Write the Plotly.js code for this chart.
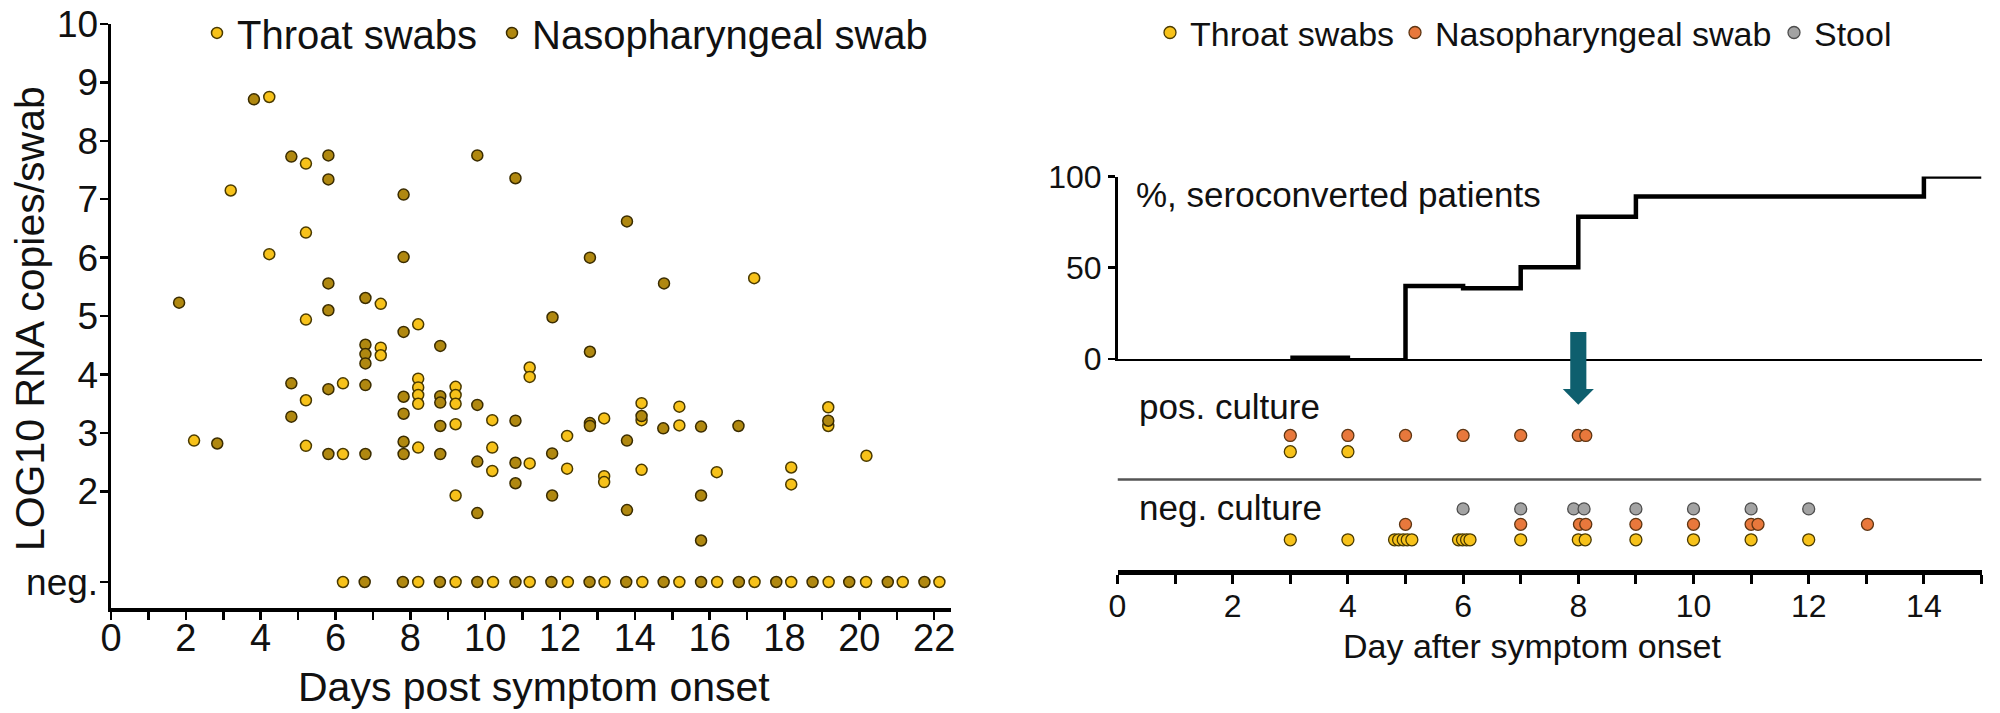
<!DOCTYPE html>
<html>
<head>
<meta charset="utf-8">
<script src="https://cdn.plot.ly/plotly-3.0.1.min.js"></script>
<style>html,body{margin:0;padding:0;background:#fff;}#chart{width:2000px;height:713px;}</style>
</head>
<body>
<div id="chart"></div>
<script>
// ---------- Left panel: viral RNA load ----------
const NEG_LEVEL = 0.45; // position of the "neg." row
const leftThroatX = [4.23,5.21,3.2,5.21,4.23,7.21,5.21,8.21,7.21,7.21,5.21,5.21,6.2,6.2,2.22,8.21,8.21,8.21,8.21,8.21,9.21,9.21,9.21,9.21,9.21,10.19,10.19,10.19,17.19,11.19,11.19,11.19,12.19,12.19,13.18,13.18,13.18,14.18,14.18,14.18,15.19,15.19,16.19,18.18,18.18,19.17,19.17,20.19];
const leftThroatY = [8.75,7.61,7.15,6.43,6.06,5.21,4.94,4.86,4.46,4.33,3.56,2.78,3.85,2.64,2.87,3.93,3.78,3.65,3.50,2.75,3.79,3.65,3.50,3.15,1.93,3.22,2.75,2.35,5.65,4.12,3.96,2.48,2.95,2.39,3.25,2.26,2.16,3.51,3.22,2.37,3.45,3.13,2.33,2.41,2.12,3.44,3.12,2.61];
const leftThroatNegX = [6.2,8.21,9.21,10.21,11.19,12.21,13.19,14.2,15.19,16.2,17.2,18.18,19.18,20.18,21.16,22.14];

const leftNasoX = [3.82,4.82,5.81,5.81,7.82,9.79,7.82,5.81,1.82,6.8,5.81,7.82,8.8,6.8,6.8,6.8,6.8,6.8,4.82,4.82,5.81,5.81,2.84,7.82,7.82,7.82,7.82,8.8,8.8,8.8,8.8,9.79,9.79,9.79,10.81,13.79,12.8,14.78,11.8,12.8,10.81,10.81,10.81,11.79,11.79,12.8,12.8,13.79,13.79,14.18,14.76,15.77,15.77,15.77,16.77,19.17];
const leftNasoY = [8.71,7.73,7.75,7.34,7.08,7.75,6.01,5.56,5.23,5.31,5.10,4.73,4.49,4.51,4.35,4.19,3.82,2.64,3.85,3.28,3.75,2.64,2.82,3.62,3.33,2.85,2.64,3.63,3.52,3.12,2.64,3.48,2.51,1.63,7.36,6.62,6.0,5.56,4.98,4.39,3.21,2.49,2.14,2.65,1.93,3.17,3.12,2.87,1.68,3.29,3.08,3.11,1.93,1.16,3.12,3.21];
const leftNasoNegX = [6.78,7.8,8.79,9.79,10.81,11.77,12.79,13.77,14.77,15.77,16.78,17.78,18.75,19.73,20.76,21.74];

const leftYTickVals = [NEG_LEVEL,2,3,4,5,6,7,8,9,10];
const leftYTickText = ['neg.','2','3','4','5','6','7','8','9','10'];

// ---------- Right panel: seroconversion ----------
const seroDays = [3,4,5,6,7,8,9,14,15];
const seroPct  = [0.7,-0.7,40,38.7,50.3,78,89,100,100];
const seroTickVals = [0,50,100];

// ---------- Right panel: virus culture ----------
const posThroatDays = [3,4];
const posNasoDays   = [3,4,5,6,7,8,8.13];
const negThroatDays = [3,4,4.81,4.88,4.96,5.03,5.11,5.92,5.99,6.06,6.12,7,8,8.12,9,10,11,12];
const negNasoDays   = [5,7,8.02,8.13,9,10,11,11.12,13.02];
const negStoolDays  = [6,7,7.92,8.1,9,10,11,12];
const arrowDay = 8;

// row placement (layout) for the culture strip
const ROW = {neg:{throat:0, naso:1, stool:2}, pos:{throat:5.7, naso:6.75}};
const DIVIDER_ROW = 3.9;

// ---------- helpers ----------
const W = 2000, H = 713;
const px = x => x / W;
const py = y => 1 - y / H;
const FONT = 'Liberation Sans, Arial, Helvetica, sans-serif';
const TXT = '#111';
const rep = (v, n) => Array(n).fill(v);

const C_THROAT = '#F7C21A', C_THROAT_L = '#4a3a00';
const C_NASO = '#B08810', C_NASO_L = '#3a2c00';
const C_ORANGE = '#E8783C', C_ORANGE_L = '#5e3512';
const C_STOOL = '#A3A3A3', C_STOOL_L = '#4d4d4d';

const traces = [
  {type:'scatter', mode:'markers', name:'Throat swabs', legend:'legend', legendwidth:250,
   x: leftThroatX.concat(leftThroatNegX), y: leftThroatY.concat(rep(NEG_LEVEL, leftThroatNegX.length)),
   xaxis:'x', yaxis:'y', cliponaxis:false,
   marker:{size:11, color:C_THROAT, line:{color:C_THROAT_L, width:1.5}}},
  {type:'scatter', mode:'markers', name:'Nasopharyngeal swab', legend:'legend', legendwidth:410,
   x: leftNasoX.concat(leftNasoNegX), y: leftNasoY.concat(rep(NEG_LEVEL, leftNasoNegX.length)),
   xaxis:'x', yaxis:'y', cliponaxis:false,
   marker:{size:11, color:C_NASO, line:{color:C_NASO_L, width:1.5}}},
  {type:'scatter', mode:'lines', showlegend:false, x: seroDays, y: seroPct,
   xaxis:'x2', yaxis:'y2', cliponaxis:false, line:{shape:'hv', color:'#000', width:4.5}},
  {type:'scatter', mode:'markers', name:'Throat swabs', legend:'legend2', legendwidth:200,
   x: posThroatDays.concat(negThroatDays),
   y: rep(ROW.pos.throat, posThroatDays.length).concat(rep(ROW.neg.throat, negThroatDays.length)),
   xaxis:'x3', yaxis:'y3', cliponaxis:false,
   marker:{size:12, color:C_THROAT, line:{color:C_THROAT_L, width:1.3}}},
  {type:'scatter', mode:'markers', name:'Nasopharyngeal swab', legend:'legend2', legendwidth:334,
   x: posNasoDays.concat(negNasoDays),
   y: rep(ROW.pos.naso, posNasoDays.length).concat(rep(ROW.neg.naso, negNasoDays.length)),
   xaxis:'x3', yaxis:'y3', cliponaxis:false,
   marker:{size:12, color:C_ORANGE, line:{color:C_ORANGE_L, width:1.3}}},
  {type:'scatter', mode:'markers', name:'Stool', legend:'legend2', legendwidth:80,
   x: negStoolDays, y: rep(ROW.neg.stool, negStoolDays.length),
   xaxis:'x3', yaxis:'y3', cliponaxis:false,
   marker:{size:12, color:C_STOOL, line:{color:C_STOOL_L, width:1.3}}}
];

const axisLine = {showline:true, linecolor:'#000', zeroline:false, showgrid:false};
const ann = (text, x, y, size, extra) => Object.assign({text, xref:'paper', yref:'paper', x:px(x), y:py(y),
  xanchor:'left', yanchor:'middle', showarrow:false, font:{size, family:FONT, color:TXT}}, extra || {});

const layout = {
  width: W, height: H,
  margin:{l:0, r:0, t:0, b:0},
  paper_bgcolor:'#fff', plot_bgcolor:'rgba(0,0,0,0)',
  font:{family:FONT, color:TXT},
  showlegend:true,
  legend:{orientation:'h', x:px(197), xanchor:'left', y:py(31), yanchor:'middle',
          font:{size:40, family:FONT, color:TXT}, bgcolor:'rgba(0,0,0,0)', itemwidth:30},
  legend2:{orientation:'h', x:px(1150), xanchor:'left', y:py(31), yanchor:'middle',
          font:{size:34, family:FONT, color:TXT}, bgcolor:'rgba(0,0,0,0)', itemwidth:30},
  xaxis: Object.assign({}, axisLine, {
    domain:[px(111), px(951)], range:[0, 22.45], anchor:'y',
    linewidth:3.5, ticks:'outside', ticklen:8, tickwidth:2.5, tickcolor:'#000',
    tick0:0, dtick:2, tickfont:{size:38, family:FONT, color:TXT}, ticklabelstandoff:-14,
    minor:{dtick:1, ticks:'outside', ticklen:8, tickwidth:2.5, tickcolor:'#000', showgrid:false}
  }),
  yaxis: Object.assign({}, axisLine, {
    domain:[py(608), py(22)], range:[0, 10], anchor:'x',
    linewidth:3.5, ticks:'outside', ticklen:8, tickwidth:2.5, tickcolor:'#000',
    tickmode:'array', tickvals:leftYTickVals, ticktext:leftYTickText, ticklabelstandoff:-6,
    tickfont:{size:37, family:FONT, color:TXT}
  }),
  xaxis2: Object.assign({}, axisLine, {
    domain:[px(1117.5), px(1981.5)], range:[0, 15], anchor:'y2',
    linewidth:2.5, ticks:'', showticklabels:false
  }),
  yaxis2: Object.assign({}, axisLine, {
    domain:[py(358), py(175)], range:[0, 100], anchor:'x2',
    linewidth:2.5, ticks:'outside', ticklen:7, tickwidth:2.5, tickcolor:'#000',
    tickmode:'array', tickvals:seroTickVals, tickfont:{size:32, family:FONT, color:TXT}
  }),
  xaxis3: Object.assign({}, axisLine, {
    domain:[px(1117.5), px(1981.5)], range:[0, 15], anchor:'y3',
    linewidth:4.5, ticks:'outside', ticklen:9, tickwidth:3, tickcolor:'#000',
    tick0:0, dtick:2, tickfont:{size:32, family:FONT, color:TXT}, ticklabelstandoff:-5,
    minor:{dtick:1, ticks:'outside', ticklen:9, tickwidth:3, tickcolor:'#000', showgrid:false}
  }),
  yaxis3: {domain:[py(570), py(399.8)], range:[-1.98, 9], anchor:'x3', visible:false, fixedrange:true},
  shapes: [
    {type:'line', xref:'x3', yref:'y3', x0:0, x1:15, y0:DIVIDER_ROW, y1:DIVIDER_ROW,
     line:{color:'#555', width:2.5}},
    {type:'rect', xref:'x2', yref:'paper', x0:arrowDay-0.14, x1:arrowDay+0.14, y0:py(389), y1:py(331),
     fillcolor:'#0E5F6E', line:{width:0}},
    {type:'path', xref:'x2', yref:'paper',
     path:`M ${arrowDay-0.27},${py(388)} L ${arrowDay+0.27},${py(388)} L ${arrowDay},${py(404)} Z`,
     fillcolor:'#0E5F6E', line:{width:0}}
  ],
  annotations: [
    // axis titles
    ann('Days post symptom onset', 534, 687, 41, {xanchor:'center'}),
    ann('LOG10 RNA copies/swab', 30, 318, 41, {xanchor:'center', textangle:-90}),
    ann('Day after symptom onset', 1532, 646, 34, {xanchor:'center'}),
    // panel labels
    ann('%, seroconverted patients', 1134, 193, 35),
    ann('pos. culture', 1137, 406, 35),
    ann('neg. culture', 1137, 507, 35)
  ]
};

Plotly.newPlot('chart', traces, layout, {staticPlot:true, displayModeBar:false});
</script>
</body>
</html>
